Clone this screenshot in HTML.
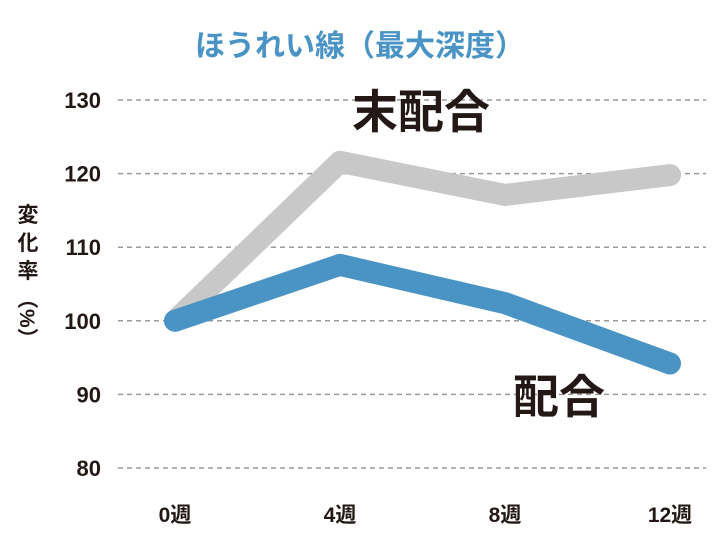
<!DOCTYPE html>
<html><head><meta charset="utf-8">
<style>
body{margin:0;background:#fff;}
svg text{font-family:"Liberation Sans","Noto Sans CJK JP",sans-serif;font-weight:bold;}
</style></head>
<body>
<svg id="chart" width="720" height="536" viewBox="0 0 720 536" xmlns="http://www.w3.org/2000/svg">
<text x="360" y="56" text-anchor="middle" font-size="30" fill="#4a94c5">ほうれい線（最大深度）</text>
<g id="grid"></g>
<g id="yticks"></g>
<g id="xticks"></g>
<g fill="#231815" font-size="21">
<text x="28" y="222" text-anchor="middle">変</text>
<text x="28" y="250" text-anchor="middle">化</text>
<text x="28" y="278" text-anchor="middle">率</text>
<text transform="translate(20,288) rotate(90)">（%）</text>
</g>
<g id="series"></g>
<text x="421" y="128" text-anchor="middle" font-size="46" fill="#231815">末配合</text>
<text x="559" y="413" text-anchor="middle" font-size="46" fill="#231815">配合</text>
</svg>
<script>
const categories=["0週","4週","8週","12週"];
const yTicks=[80,90,100,110,120,130];
const unblended=[100,121.6,117.1,119.8];
const blended=[100,107.6,102.4,94.2];
const NS="http://www.w3.org/2000/svg";
function yScale(v){return 468-(v-80)*7.36;}
function xScale(i){return 175+i*165;}
const grid=document.getElementById('grid'),yt=document.getElementById('yticks'),xt=document.getElementById('xticks'),se=document.getElementById('series');
yTicks.forEach(v=>{
 const l=document.createElementNS(NS,'line');
 
 
 l.setAttribute('x1',118);l.setAttribute('x2',706);l.setAttribute('y1',yScale(v));l.setAttribute('y2',yScale(v));
 l.setAttribute('stroke','#999');l.setAttribute('stroke-width','1.5');l.setAttribute('stroke-dasharray','5,4');
 grid.appendChild(l);
 const t=document.createElementNS(NS,'text');
 
 
 t.setAttribute('x',101);t.setAttribute('y',yScale(v)+8);t.setAttribute('text-anchor','end');t.setAttribute('font-size','22');t.setAttribute('fill','#231815');
 t.textContent=v;yt.appendChild(t);
});
categories.forEach((c,i)=>{
 const t=document.createElementNS(NS,'text');
 
 
 t.setAttribute('x',xScale(i));t.setAttribute('y',522);t.setAttribute('text-anchor','middle');t.setAttribute('font-size','21');t.setAttribute('fill','#231815');
 t.textContent=c;xt.appendChild(t);
});
function drawLine(vals,color,name){
 const p=document.createElementNS(NS,'polyline');
 
 
 p.setAttribute('points',vals.map((v,i)=>xScale(i)+','+yScale(v)).join(' '));
 p.setAttribute('fill','none');p.setAttribute('stroke',color);p.setAttribute('stroke-width','22');
 p.setAttribute('stroke-linecap','round');p.setAttribute('stroke-linejoin','round');
 se.appendChild(p);
}
drawLine(unblended,'#c8c8c9','series-unblended');
drawLine(blended,'#4a94c5','series-blended');
</script>
</body></html>
